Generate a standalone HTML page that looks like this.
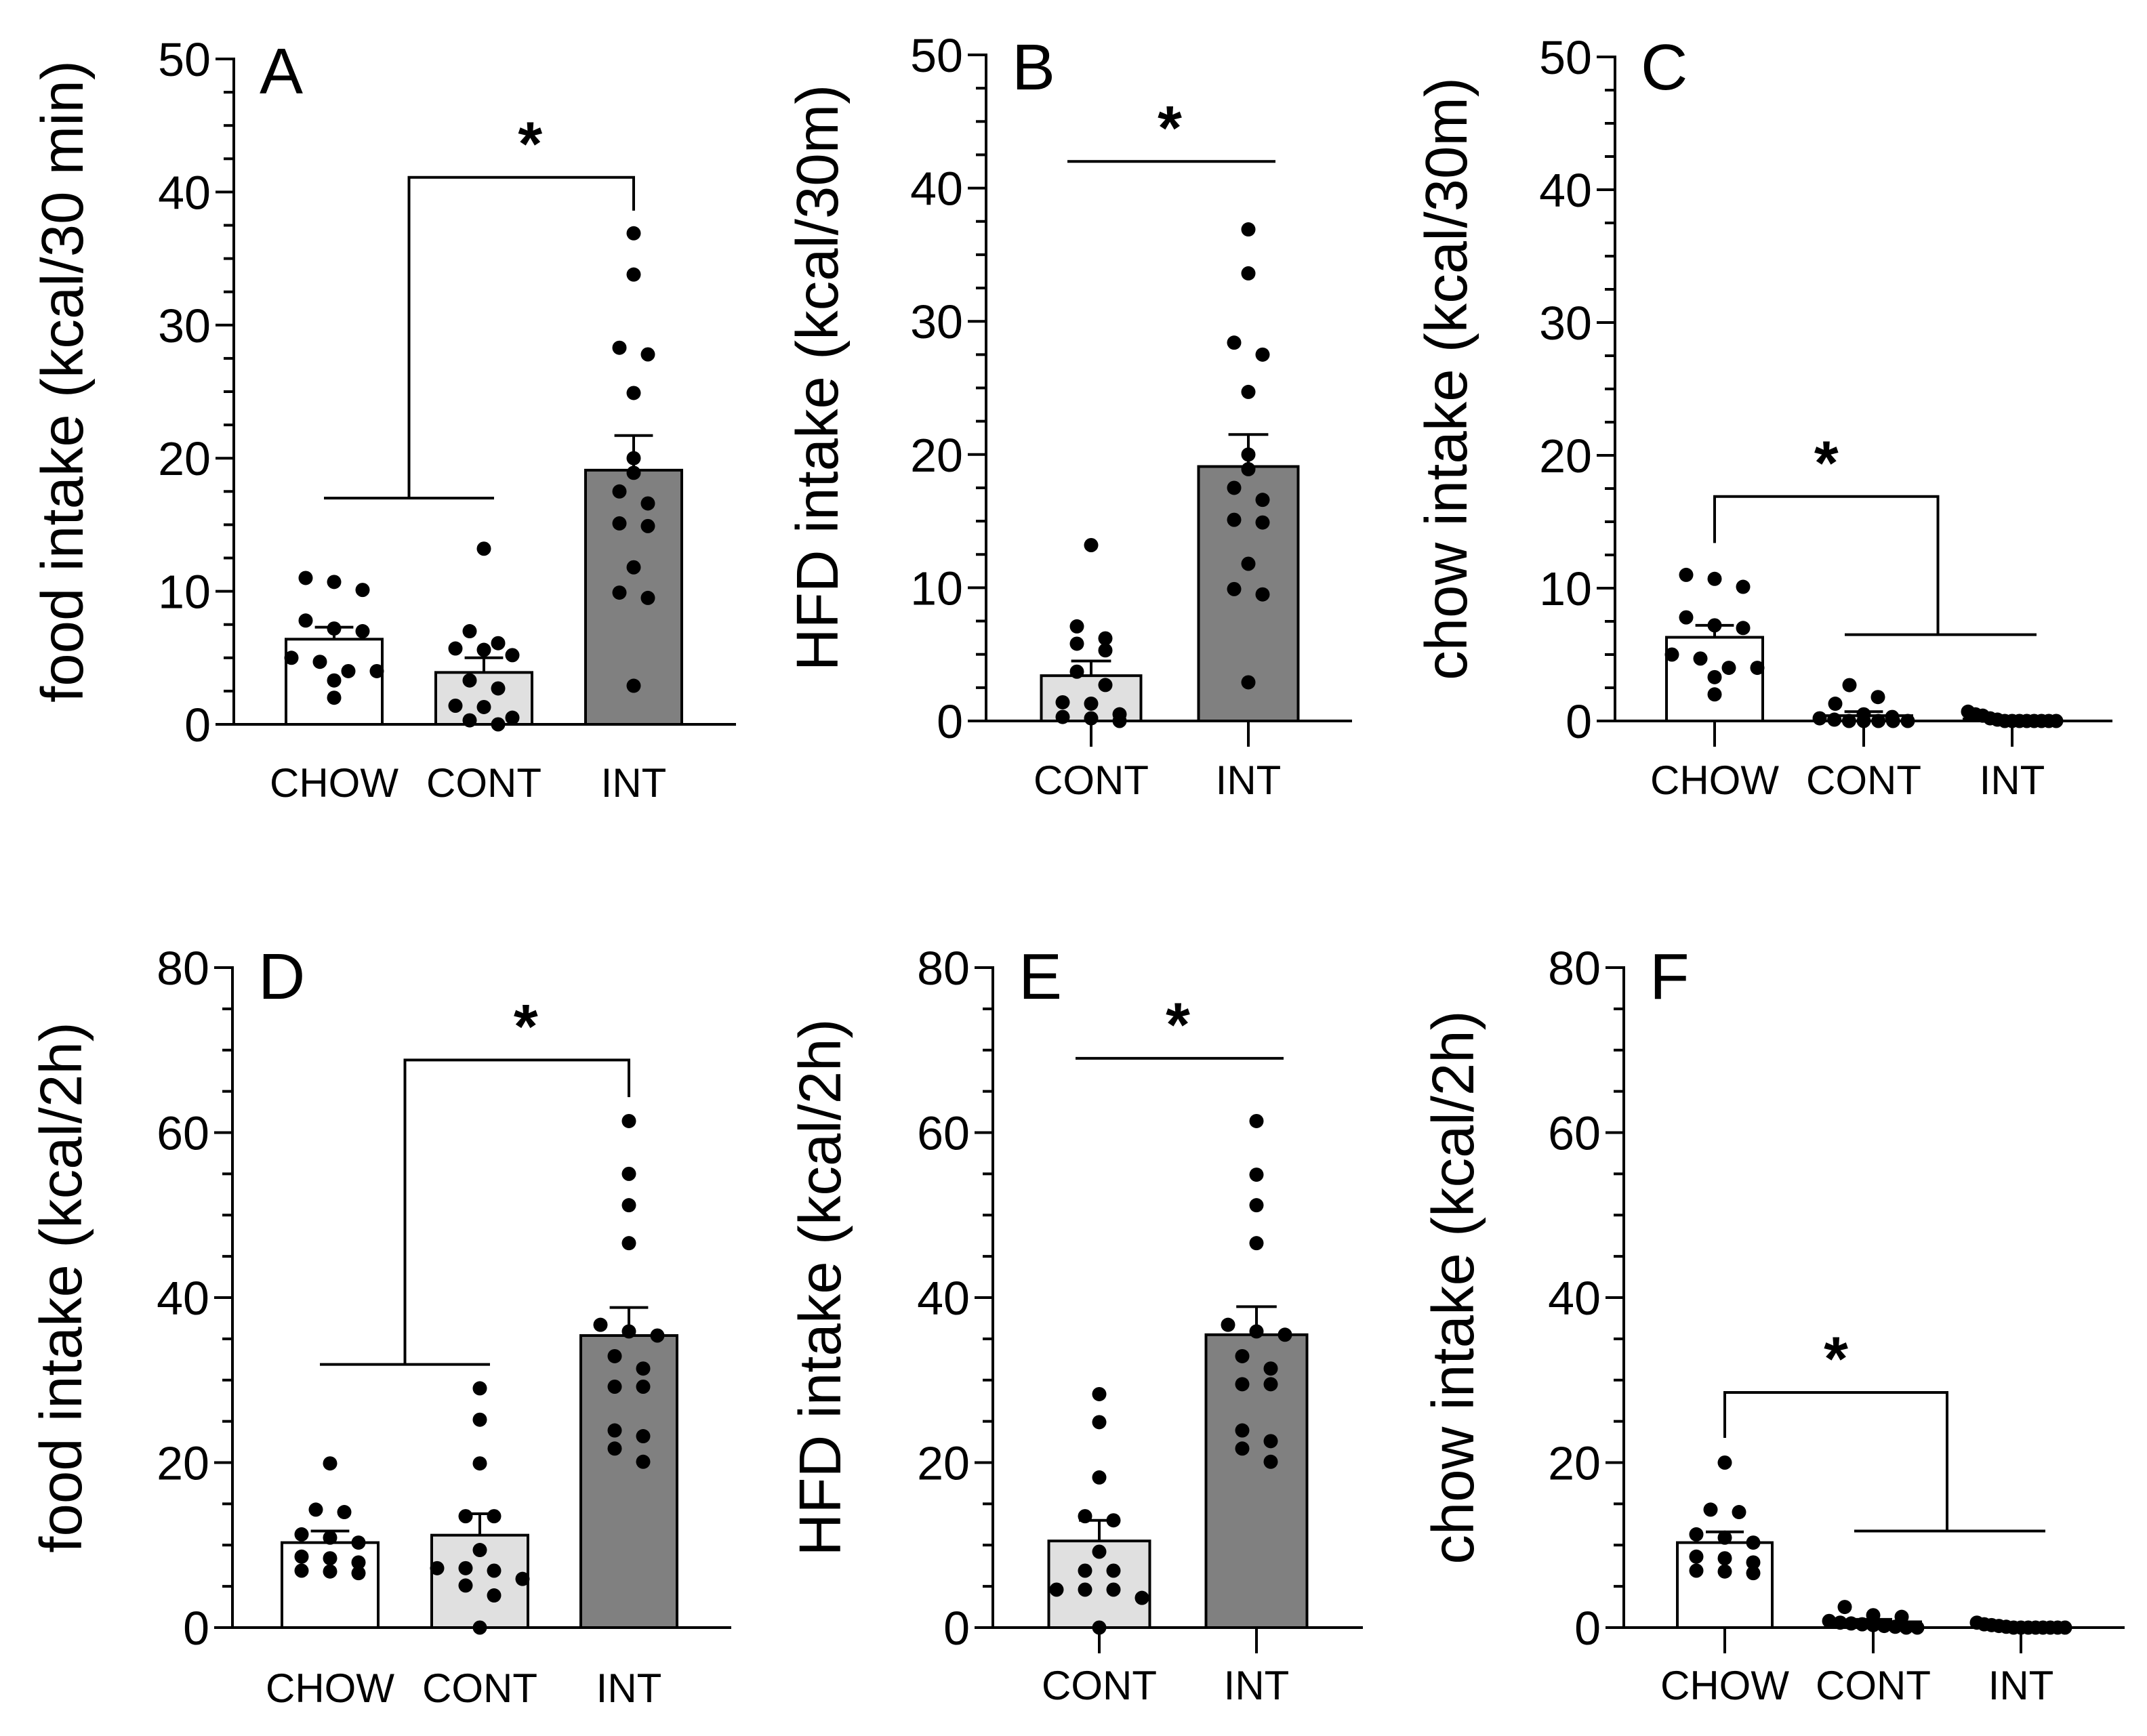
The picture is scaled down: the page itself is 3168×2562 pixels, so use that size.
<!DOCTYPE html>
<html><head><meta charset="utf-8">
<style>
html,body{margin:0;padding:0;background:#fff;}
svg{display:block;font-family:"Liberation Sans",Arial,sans-serif;}
</style></head>
<body>
<svg id="fig" width="3168" height="2562" viewBox="0 0 3168 2562" xmlns="http://www.w3.org/2000/svg"></svg>
<script>
// ---------- DATA ----------
const aCategories = ["CHOW","CONT","INT"];
const aMeans = [6.4, 3.9, 19.1];
const aSems = [0.9, 1.1, 2.6];
const aChowDots = [10.7,11.0,10.1,7.2,7.0,7.8,5.0,4.7,4.0,4.0,3.3,2.0];
const aContDots = [13.2,7.0,5.6,5.7,6.1,5.2,3.3,2.7,1.3,1.4,0,0.3,0.5];
const aIntDots = [36.9,33.8,28.3,27.8,24.9,20.0,18.9,16.6,17.5,14.9,15.1,11.8,9.9,9.5,2.9];
const aBracket = [17.0, 41.1, 38.6];
const aTicks = [0,10,20,30,40,50];

const bCategories = ["CONT","INT"];
const bMeans = [3.4, 19.1];
const bSems = [1.1, 2.4];
const bContDots = [13.2,7.1,5.8,6.2,5.3,3.7,2.7,1.3,1.4,0,0.3,0.2,0.5];
const bIntDots = [36.9,33.6,28.4,27.5,24.7,20.0,18.9,16.6,17.5,14.9,15.1,11.8,9.9,9.5,2.9];
const bBracket = [42.0];
const bTicks = [0,10,20,30,40,50];

const cCategories = ["CHOW","CONT","INT"];
const cMeans = [6.3, 0.4, 0.15];
const cSems = [0.9, 0.3, 0.08];
const cChowDots = [10.7,11.0,10.1,7.2,7.0,7.8,5.0,4.7,4.0,4.0,3.3,2.0];
const cContDots = [2.7,1.8,1.3,0.5,0.3,0.2,0.1,0,0,0,0,0];
const cIntDots = [0.7,0.5,0.4,0.2,0.1,0,0,0,0,0,0,0,0];
const cBracket = [13.4, 16.9, 6.5];
const cTicks = [0,10,20,30,40,50];

const dCategories = ["CHOW","CONT","INT"];
const dMeans = [10.3, 11.2, 35.4];
const dSems = [1.4, 2.6, 3.4];
const dChowDots = [19.9,14.0,14.3,10.3,10.9,11.3,8.4,7.9,8.6,6.6,6.9,6.8];
const dContDots = [29.0,25.2,19.9,13.5,13.5,9.4,7.2,7.2,6.9,5.1,5.9,3.9,0];
const dIntDots = [61.4,55.0,51.2,46.6,35.4,35.9,36.7,32.9,31.4,29.2,29.2,23.9,23.2,21.7,20.1];
const dBracket = [31.9, 68.8, 64.3];
const dTicks = [0,20,40,60,80];

const eCategories = ["CONT","INT"];
const eMeans = [10.5, 35.5];
const eSems = [2.5, 3.4];
const eContDots = [28.3,24.9,18.2,13.0,13.5,9.2,6.9,6.9,4.6,4.6,4.6,3.6,0];
const eIntDots = [61.4,54.9,51.2,46.6,35.5,36.7,35.9,32.9,31.4,29.5,29.5,23.9,22.6,21.7,20.1];
const eBracket = [69.0];
const eTicks = [0,20,40,60,80];

const fCategories = ["CHOW","CONT","INT"];
const fMeans = [10.3, 0.7, 0.2];
const fSems = [1.3, 0.3, 0.1];
const fChowDots = [20.0,14.0,14.3,10.3,10.9,11.3,8.4,7.9,8.6,6.6,6.9,6.8];
const fContDots = [2.5,1.5,1.3,0.8,0.6,0.5,0.4,0.3,0.2,0.1,0,0];
const fIntDots = [0.6,0.4,0.3,0.2,0.1,0,0,0,0,0,0,0,0];
const fBracket = [23.0, 28.5, 11.7];
const fTicks = [0,20,40,60,80];

// ---------- DRAWING ----------
const NS = "http://www.w3.org/2000/svg";
const svg = document.getElementById("fig");
const fills = {CHOW:"#ffffff", CONT:"#e0e0e0", INT:"#808080"};
function mk(tag, attrs, parent){
  const el = document.createElementNS(NS, tag);
  for (const k in attrs) el.setAttribute(k, attrs[k]);
  (parent||svg).appendChild(el);
  return el;
}

function drawPanel(p){
  const g = mk("g", {});
  
  
  const yMax = p.ticks[p.ticks.length-1];
  const Y = v => p.y0 - (v / yMax) * (p.y0 - p.yTop);
  const sw = 4;
  const ax = mk("line", {x1:p.ax, y1:p.yTop-2, x2:p.ax, y2:p.y0, stroke:"#000","stroke-width":sw}, g);
  
  
  const xa = mk("line", {x1:p.ax-2, y1:p.y0, x2:p.xEnd, y2:p.y0, stroke:"#000","stroke-width":sw}, g);
  
  
  const step = p.ticks[1]-p.ticks[0];
  for (let v = 0; v <= yMax + 1e-9; v += step/p.minorDiv){
    const isMajor = Math.abs(v/step - Math.round(v/step)) < 1e-6;
    const len = isMajor ? 27 : 15;
    const t = mk("line", {x1:p.ax-len, y1:Y(v), x2:p.ax, y2:Y(v), stroke:"#000","stroke-width":sw}, g);
    
    
  }
  p.ticks.forEach(v => {
    const t = mk("text", {x:p.ax-34, y:Y(v)+25, "text-anchor":"end","font-size":70, fill:"#000"}, g);
    t.textContent = v;
    
    
  });
  const midY = (p.y0 + p.yTop)/2 - 15;
  const tt = mk("text", {x:0, y:0, transform:`translate(${p.titleX},${midY}) rotate(-90)`, "text-anchor":"middle","font-size":87, fill:"#000"}, g);
  tt.textContent = p.title;
  
  
  const lt = mk("text", {x:p.ax+38, y:p.letterY, "font-size":96, fill:"#000"}, g);
  lt.textContent = p.letter;
  
  
  p.cats.forEach((c, i) => {
    const cx = p.centers[i];
    const top = Y(p.means[i]);
    const b = mk("rect", {x:cx-p.bw/2, y:top, width:p.bw, height:p.y0-top, fill:fills[c], stroke:"#000","stroke-width":sw}, g);
    
    
    const et = Y(p.means[i] + p.sems[i]);
    const e1 = mk("line", {x1:cx, y1:top, x2:cx, y2:et, stroke:"#000","stroke-width":sw}, g);
    
    
    const e2 = mk("line", {x1:cx-p.bw*0.2, y1:et, x2:cx+p.bw*0.2, y2:et, stroke:"#000","stroke-width":sw}, g);
    
    
    if (p.xTicks){
      const xt = mk("line", {x1:cx, y1:p.y0, x2:cx, y2:p.y0+38, stroke:"#000","stroke-width":sw}, g);
      
      
    }
    const lb = mk("text", {x:cx, y:p.labelY, "text-anchor":"middle","font-size":60, fill:"#000"}, g);
    lb.textContent = c;
    
    
    drawDots(g, p.dots[i], cx, Y, p.dotMax);
  });
  const bk = p.bracket, C = p.centers;
  let d, starX;
  if (p.kind === "line"){
    d = `M${C[0]-35},${Y(bk[0])} H${C[1]+40}`;
    starX = (C[0]+C[1])/2;
  } else if (p.kind === "leftPair"){
    const mid = (C[0]+C[1])/2;
    d = `M${C[0]-15},${Y(bk[0])} H${C[1]+15} M${mid},${Y(bk[0])} V${Y(bk[1])} H${C[2]} V${Y(bk[2])}`;
    starX = (mid + C[2])/2 + 13;
  } else {
    const mid = (C[1]+C[2])/2;
    d = `M${C[0]},${Y(bk[0])} V${Y(bk[1])} H${mid} V${Y(bk[2])} M${C[1]-28},${Y(bk[2])} H${C[2]+36}`;
    starX = (C[0] + mid)/2;
  }
  const br = mk("path", {d:d, fill:"none", stroke:"#000","stroke-width":sw}, g);
  
  
  const topY = p.kind === "line" ? Y(bk[0]) : Y(bk[1]);
  const st = mk("text", {x:starX, y:topY-18, "text-anchor":"middle","font-size":92,"font-weight":"bold", fill:"#000"}, g);
  st.textContent = "*";
  
  
}

function drawDots(g, vals, cx, Y, maxW){
  const r = 10.5, diam = 21;
  const sorted = vals.slice().sort((a,b)=>b-a);
  const rows = [];
  sorted.forEach(v => {
    const py = Y(v);
    const row = rows[rows.length-1];
    if (row && Math.abs(py - row.y0) < diam*0.95) row.items.push(py);
    else rows.push({y0:py, items:[py]});
  });
  rows.forEach(row => {
    const n = row.items.length;
    const stp = n > 1 ? Math.min(42, maxW/(n-1)) : 0;
    row.items.forEach((py, i) => {
      const c = mk("circle", {cx:cx + (i-(n-1)/2)*stp, cy:py, r:r, fill:"#000"}, g);
      
      
    });
  });
}

const panels = [
  {letter:"A", title:"food intake (kcal/30 min)", cats:aCategories, means:aMeans, sems:aSems, dots:[aChowDots,aContDots,aIntDots], bracket:aBracket, ticks:aTicks, kind:"leftPair",
   ax:345, y0:1069, yTop:87, xEnd:1086, centers:[493,714,935], bw:142, minorDiv:4, titleX:122, letterY:138, labelY:1176, xTicks:false, dotMax:130},
  {letter:"B", title:"HFD intake (kcal/30m)", cats:bCategories, means:bMeans, sems:bSems, dots:[bContDots,bIntDots], bracket:bBracket, ticks:bTicks, kind:"line",
   ax:1455, y0:1064, yTop:81, xEnd:1995, centers:[1610,1842], bw:147, minorDiv:4, titleX:1236, letterY:132, labelY:1172, xTicks:true, dotMax:130},
  {letter:"C", title:"chow intake (kcal/30m)", cats:cCategories, means:cMeans, sems:cSems, dots:[cChowDots,cContDots,cIntDots], bracket:cBracket, ticks:cTicks, kind:"rightPair",
   ax:2383, y0:1064, yTop:84, xEnd:3117, centers:[2530,2750,2969], bw:142, minorDiv:4, titleX:2164, letterY:132, labelY:1172, xTicks:true, dotMax:130},
  {letter:"D", title:"food intake (kcal/2h)", cats:dCategories, means:dMeans, sems:dSems, dots:[dChowDots,dContDots,dIntDots], bracket:dBracket, ticks:dTicks, kind:"leftPair",
   ax:343, y0:2402, yTop:1428, xEnd:1079, centers:[487,708,928], bw:142, minorDiv:4, titleX:120, letterY:1474, labelY:2512, xTicks:false, dotMax:130},
  {letter:"E", title:"HFD intake (kcal/2h)", cats:eCategories, means:eMeans, sems:eSems, dots:[eContDots,eIntDots], bracket:eBracket, ticks:eTicks, kind:"line",
   ax:1465, y0:2402, yTop:1428, xEnd:2011, centers:[1622,1854], bw:149, minorDiv:4, titleX:1240, letterY:1474, labelY:2508, xTicks:true, dotMax:130},
  {letter:"F", title:"chow intake (kcal/2h)", cats:fCategories, means:fMeans, sems:fSems, dots:[fChowDots,fContDots,fIntDots], bracket:fBracket, ticks:fTicks, kind:"rightPair",
   ax:2396, y0:2402, yTop:1428, xEnd:3135, centers:[2545,2764,2982], bw:140, minorDiv:4, titleX:2174, letterY:1474, labelY:2508, xTicks:true, dotMax:130}
];
panels.forEach(drawPanel);
</script>
</body></html>
